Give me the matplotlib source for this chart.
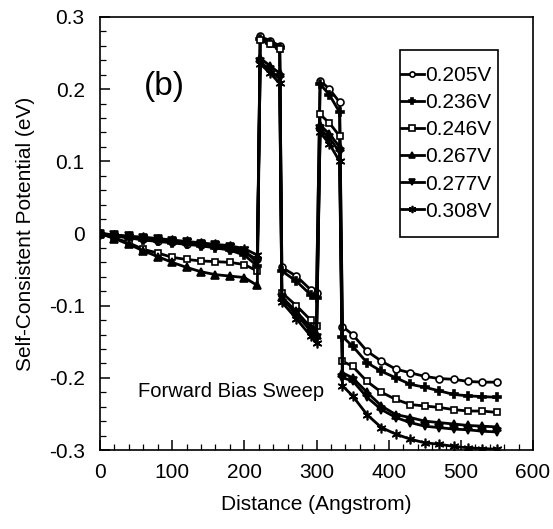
import matplotlib
matplotlib.use("Agg")
import matplotlib.pyplot as plt
from matplotlib.ticker import MultipleLocator
from matplotlib.patches import Rectangle
from matplotlib import font_manager

names = {f.name for f in font_manager.fontManager.ttflist}
main_font = "Liberation Sans" if "Liberation Sans" in names else "DejaVu Sans"
narrow_font = "Liberation Sans Narrow" if "Liberation Sans Narrow" in names else main_font
plt.rcParams['font.family'] = [main_font, 'DejaVu Sans']

# ---- data ----
distance = [0, 20, 40, 60, 80, 100, 120, 140, 160, 180, 200, 218,
            222, 236, 249,
            252, 272, 292, 300,
            305, 318, 332,
            336, 350, 370, 390, 410, 430, 450, 470, 490, 510, 530, 550]

labels = ["0.205V", "0.236V", "0.246V", "0.267V", "0.277V", "0.308V"]

v0205 = [0, -0.003, -0.006, -0.008, -0.010, -0.012, -0.014, -0.016, -0.018, -0.021, -0.026, -0.036,
         0.273, 0.267, 0.260,
         -0.047, -0.059, -0.078, -0.083,
         0.212, 0.200, 0.182,
         -0.129, -0.140, -0.163, -0.177, -0.188, -0.193, -0.198, -0.201, -0.202, -0.205, -0.206, -0.206]
v0236 = [0, -0.003, -0.006, -0.009, -0.011, -0.013, -0.015, -0.017, -0.020, -0.023, -0.030, -0.045,
         0.270, 0.264, 0.257,
         -0.052, -0.066, -0.085, -0.090,
         0.207, 0.192, 0.168,
         -0.143, -0.156, -0.179, -0.191, -0.200, -0.209, -0.213, -0.218, -0.223, -0.225, -0.226, -0.227]
v0246 = [0, -0.006, -0.013, -0.022, -0.027, -0.033, -0.036, -0.038, -0.039, -0.040, -0.043, -0.052,
         0.268, 0.262, 0.255,
         -0.082, -0.100, -0.120, -0.128,
         0.165, 0.153, 0.135,
         -0.177, -0.184, -0.205, -0.220, -0.230, -0.237, -0.239, -0.241, -0.244, -0.246, -0.246, -0.248]
v0267 = [0, -0.007, -0.015, -0.024, -0.032, -0.040, -0.047, -0.053, -0.057, -0.059, -0.061, -0.072,
         0.243, 0.232, 0.222,
         -0.088, -0.108, -0.130, -0.140,
         0.150, 0.138, 0.120,
         -0.193, -0.200, -0.220, -0.239, -0.251, -0.255, -0.260, -0.262, -0.264, -0.266, -0.267, -0.268]
v0277 = [0, -0.002, -0.004, -0.006, -0.008, -0.010, -0.012, -0.014, -0.016, -0.019, -0.024, -0.040,
         0.238, 0.226, 0.215,
         -0.090, -0.112, -0.135, -0.145,
         0.145, 0.132, 0.113,
         -0.200, -0.204, -0.227, -0.244, -0.255, -0.262, -0.267, -0.269, -0.271, -0.272, -0.274, -0.275]
v0308 = [0, -0.002, -0.004, -0.005, -0.007, -0.009, -0.011, -0.013, -0.015, -0.017, -0.021, -0.030,
         0.235, 0.222, 0.208,
         -0.095, -0.118, -0.142, -0.152,
         0.140, 0.124, 0.100,
         -0.211, -0.225, -0.251, -0.269, -0.278, -0.285, -0.290, -0.292, -0.295, -0.297, -0.298, -0.299]

yticks = [-0.3, -0.2, -0.1, 0, 0.1, 0.2, 0.3]
ytick_labels = ["-0.3", "-0.2", "-0.1", "0", "0.1", "0.2", "0.3"]

series = [v0205, v0236, v0246, v0267, v0277, v0308]
markers = ['o', 'P', 's', '^', 'v', (6, 2, 0)]
fills = ['white', 'black', 'white', 'black', 'black', 'black']
msizes = [5, 6, 5, 5.5, 5.5, 7]

fig = plt.figure(figsize=(5.53, 5.29), dpi=100)
ax = fig.add_axes([100/553, 1-450/529, 433/553, 433/529])

for y, lab, m, fc, ms in zip(series, labels, markers, fills, msizes):
    ax.plot(distance, y, color='black', lw=2.0, marker=m, markersize=ms,
            markerfacecolor=fc, markeredgecolor='black', markeredgewidth=1.2,
            label=lab)

ax.set_xlim(0, 600)
ax.set_ylim(-0.3, 0.3)
ax.xaxis.set_major_locator(MultipleLocator(100))
ax.xaxis.set_minor_locator(MultipleLocator(20))
ax.set_yticks(yticks)
ax.set_yticklabels(ytick_labels)
ax.yaxis.set_minor_locator(MultipleLocator(0.02))
ax.tick_params(which='major', direction='in', length=7, width=1.1, labelsize=15, pad=11)
ax.tick_params(which='minor', direction='in', length=4, width=0.9)
ax.tick_params(axis='x', which='major', pad=9)
ax.tick_params(top=False, right=False)
for s in ax.spines.values():
    s.set_linewidth(1.2)

ax.set_xlabel("Distance (Angstrom)", fontsize=15, labelpad=10)
ax.set_ylabel("Self-Consistent Potential (eV)", fontsize=15, labelpad=10)

ax.text(0.148, 0.84, "(b)", transform=ax.transAxes, fontsize=24, ha='center', va='center')
ax.text(0.088, 0.135, "Forward Bias Sweep", transform=ax.transAxes, fontsize=14.5,
        ha='left', va='center', family=narrow_font)

leg = ax.legend(loc='upper left', bbox_to_anchor=(401/553, 1-66/529),
                bbox_transform=fig.transFigure, frameon=False,
                handlelength=1.1, handletextpad=0.05,
                borderpad=0.0, labelspacing=0.39, borderaxespad=0,
                prop={'family': narrow_font, 'size': 15}, markerscale=0.75)
fig.patches.append(Rectangle((400/553, 1-237/529), 98/553, 187/529,
                             transform=fig.transFigure, fill=False,
                             edgecolor='black', linewidth=1.2))

fig.savefig("out.png", dpi=100)
